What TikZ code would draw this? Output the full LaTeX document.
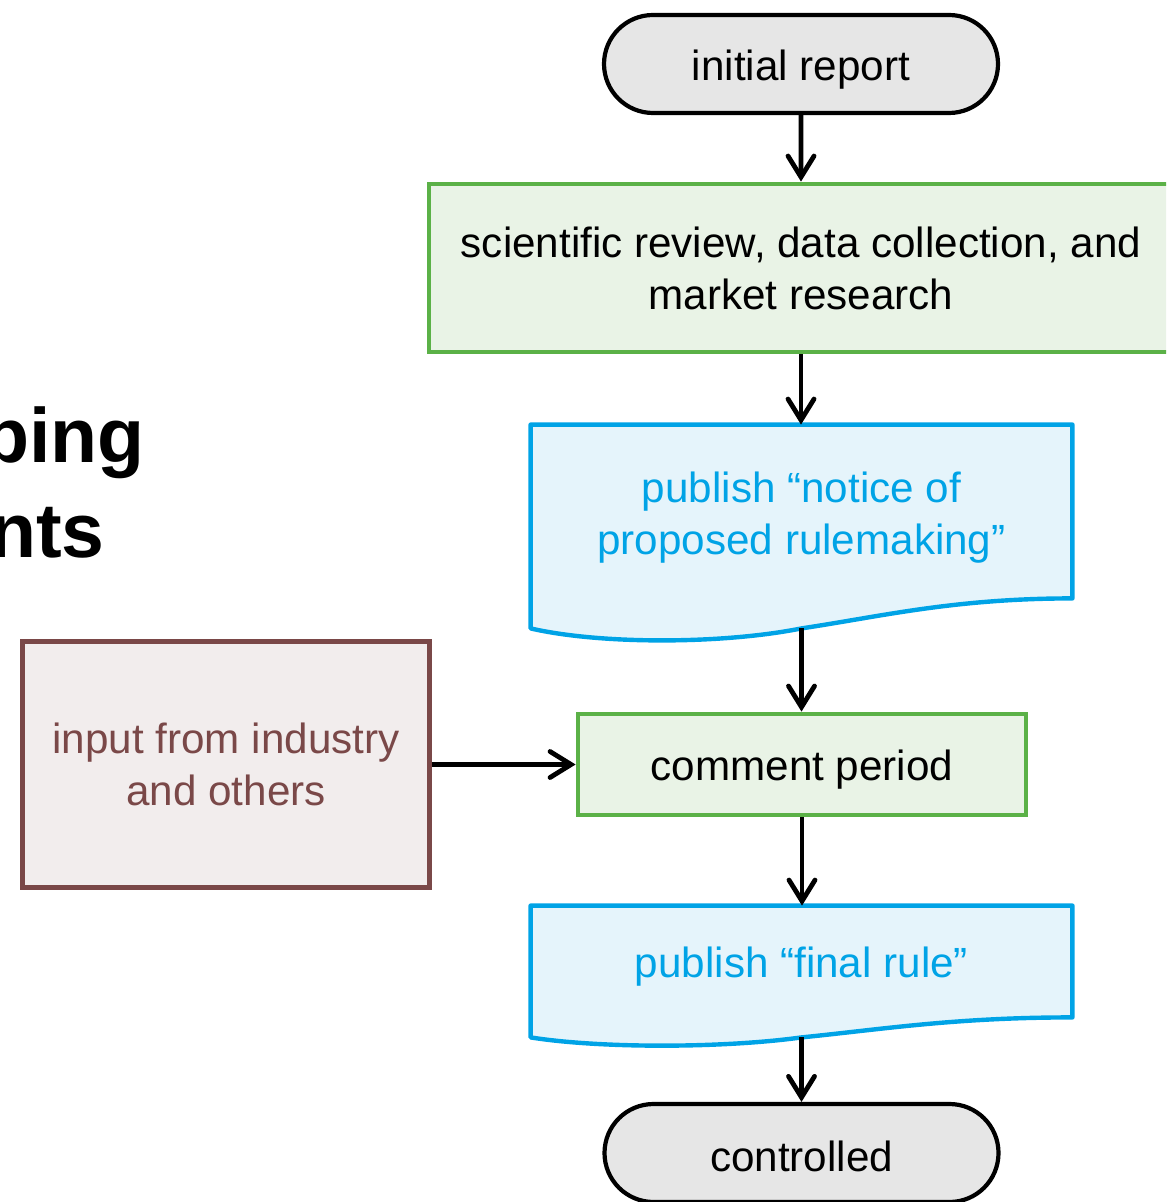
\documentclass[tikz,border=0pt]{standalone}
\usepackage{fontspec}
\setmainfont{Liberation Sans}
\usepackage{xcolor}
\usetikzlibrary{arrows.meta,positioning,calc,backgrounds,shapes.misc}
\definecolor{termGray}{HTML}{E6E6E6}
\definecolor{stepGreen}{HTML}{5BB147}
\definecolor{stepFill}{HTML}{E9F3E6}
\definecolor{docBlue}{HTML}{00A3E6}
\definecolor{docFill}{HTML}{E5F4FB}
\definecolor{inBrown}{HTML}{7A4848}
\definecolor{inFill}{HTML}{F2EDED}
% strut that pushes a node text a little down
\newcommand{\lowtext}[1]{\rule{0pt}{#1}}

\begin{document}
\begin{tikzpicture}[x=0.5pt, y=-0.5pt, font=\fontsize{21.1}{26}\selectfont,
  term/.style={rounded rectangle, draw=black, fill=termGray, line width=2.1pt,
    minimum width=197pt, minimum height=49pt, inner sep=0pt},
  stepbox/.style={rectangle, draw=stepGreen, fill=stepFill, line width=2.4pt,
    inner sep=0pt, align=center},
  doctext/.style={text=docBlue, align=center, inner sep=0pt,
    minimum width=270.5pt},
  docline/.style={draw=docBlue, fill=docFill, line width=2.2pt, line join=round},
  flow/.style={line width=2.4pt, -{Straight Barb[length=10.5pt,width=13pt,line cap=round]}}]
  % page is pixel sized, y runs down
  \clip (0,0) rectangle (1166,1202);
  % cut-off title on the left
  \node[anchor=base east, font=\fontsize{38.5}{46}\selectfont\bfseries, inner sep=0pt]
    (title1) at (145,463) {ping};
  \node[anchor=base east, font=\fontsize{38.5}{46}\selectfont\bfseries, inner sep=0pt]
    (title2) at (105,557) {nts};
  % main column
  \node[term] (initial) at (801,64) {\lowtext{20.7pt}initial report};
  \node[stepbox, minimum width=372pt, minimum height=84pt]
    (review) at (801,268) {scientific review, data collection, and\\market research};
  \node[doctext, minimum height=86.5pt] (notice) at (801.5,511.5)
    {\lowtext{21pt}publish “notice of\\proposed rulemaking”};
  \coordinate (notice-b) at ($(notice.south)+(0,30)$);
  \node[stepbox, minimum width=224pt, minimum height=50.5pt]
    (comment) at (802,764.5) {\lowtext{20.2pt}comment period};
  \node[doctext, minimum height=55.5pt] (final) at (801.5,961.5)
    {\lowtext{20.4pt}publish “final rule”};
  \coordinate (final-b) at ($(final.south)+(0,20)$);
  \node[term] (controlled) at (801.5,1153) {\lowtext{18.2pt}controlled};
  % side input
  \node[rectangle, draw=inBrown, fill=inFill, text=inBrown, line width=2.2pt,
    minimum width=203.5pt, minimum height=123pt, align=center, inner sep=0pt]
    (input) at (226,764.5) {input from industry\\and others};
  % document shapes behind the blue texts
  \begin{scope}[on background layer]
    \draw[docline] (notice.north west) -- (notice.north east) -- (notice.south east)
      .. controls +(-118,0) and +(80,-12) .. (notice-b)
      .. controls +(-80,16) and +(69,16) .. ($(notice.south west)+(0,30)$) -- cycle;
    \draw[docline] (final.north west) -- (final.north east) -- (final.south east)
      .. controls +(-118,0) and +(80,-8) .. (final-b)
      .. controls +(-80,11) and +(69,11) .. ($(final.south west)+(0,20)$) -- cycle;
  \end{scope}
  % connectors
  \draw[flow] (initial) -- (review);
  \draw[flow] (review) -- (review.south |- notice.north);
  \draw[flow] (notice-b) -- (notice-b |- comment.north);
  \draw[flow] (comment) -- (comment.south |- final.north);
  \draw[flow] (final-b) -- (final-b |- controlled.north);
  \draw[flow] (input) -- (comment);
\end{tikzpicture}
\end{document}
